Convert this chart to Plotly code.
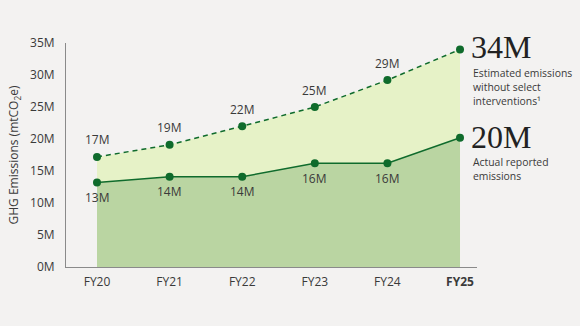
import plotly.graph_objects as go

years = ["FY20", "FY21", "FY22", "FY23", "FY24", "FY25"]
estimated = [17.2, 19.1, 22.0, 25.0, 29.2, 34.0]
actual = [13.2, 14.1, 14.1, 16.2, 16.2, 20.2]
est_labels = ["17M", "19M", "22M", "25M", "29M", ""]
act_labels = ["13M", "14M", "14M", "16M", "16M", ""]
est_note = ["Estimated emissions", "without select", "interventions¹"]
act_note = ["Actual reported", "emissions"]
yticks = [0, 5, 10, 15, 20, 25, 30, 35]
yticklabels = [f"{v}M" for v in yticks]

xs = list(range(len(years)))
ticktext = years[:-1] + ["<b>" + years[-1] + "</b>"]

dark = "#0f6b2c"
font = "Open Sans, Segoe UI, sans-serif"
lblcol = "#3a3a3a"

fig = go.Figure()
fig.add_trace(go.Scatter(
    x=xs, y=actual, mode="lines+markers", fill="tozeroy",
    fillcolor="#bad5a2", line=dict(color=dark, width=1.5),
    marker=dict(color=dark, size=8), hoverinfo="skip", cliponaxis=False))
fig.add_trace(go.Scatter(
    x=xs, y=estimated, mode="lines+markers", fill="tonexty",
    fillcolor="#e6f2c7", line=dict(color=dark, width=1.5, dash="5px,4px"),
    marker=dict(color=dark, size=8), hoverinfo="skip", cliponaxis=False))

for x, y, t in zip(xs, estimated, est_labels):
    if t:
        fig.add_annotation(x=x, y=y, text=t, showarrow=False, yshift=17,
                           font=dict(size=12, color=lblcol, family=font))
for x, y, t in zip(xs, actual, act_labels):
    if t:
        fig.add_annotation(x=x, y=y, text=t, showarrow=False, yshift=-15,
                           font=dict(size=12, color=lblcol, family=font))

fig.add_annotation(x=xs[-1], y=estimated[-1], text="34M",
                   showarrow=False, xanchor="left", yanchor="middle", xshift=9, yshift=2,
                   font=dict(family="Liberation Serif, serif", size=32, color="#222"))
for i, line in enumerate(est_note):
    fig.add_annotation(x=xs[-1], y=estimated[-1], text=line,
                       showarrow=False, xanchor="left", yanchor="middle", xshift=11, yshift=-24 - 14 * i,
                       font=dict(family=font, size=10.4, color=lblcol))
fig.add_annotation(x=xs[-1], y=actual[-1], text="20M",
                   showarrow=False, xanchor="left", yanchor="middle", xshift=9, yshift=1,
                   font=dict(family="Liberation Serif, serif", size=32, color="#222"))
for i, line in enumerate(act_note):
    fig.add_annotation(x=xs[-1], y=actual[-1], text=line,
                       showarrow=False, xanchor="left", yanchor="middle", xshift=11, yshift=-24 - 14.5 * i,
                       font=dict(family=font, size=10.4, color=lblcol))

fig.update_layout(
    width=580, height=326, margin=dict(l=66, r=103, t=43, b=59),
    paper_bgcolor="#f3f2f1", plot_bgcolor="#f3f2f1", showlegend=False,
    font=dict(family=font, color="#444"),
    xaxis=dict(range=[-0.427, 5.234], tickvals=xs, ticktext=ticktext, showgrid=False,
               zeroline=False, showline=True, linecolor="#8a8a8a", linewidth=1,
               ticks="", tickfont=dict(size=12, color=lblcol), ticklabelstandoff=4),
    yaxis=dict(range=[0, 35], tickvals=yticks, ticktext=yticklabels, showgrid=False,
               zeroline=False, showline=True, linecolor="#8a8a8a", linewidth=1,
               ticks="", tickfont=dict(size=12, color=lblcol), ticklabelstandoff=8,
               title=dict(text="GHG Emissions (mtCO<sub>2</sub>e)", font=dict(size=12, color=lblcol),
                          standoff=8)),
)

fig.write_html("out.html")
